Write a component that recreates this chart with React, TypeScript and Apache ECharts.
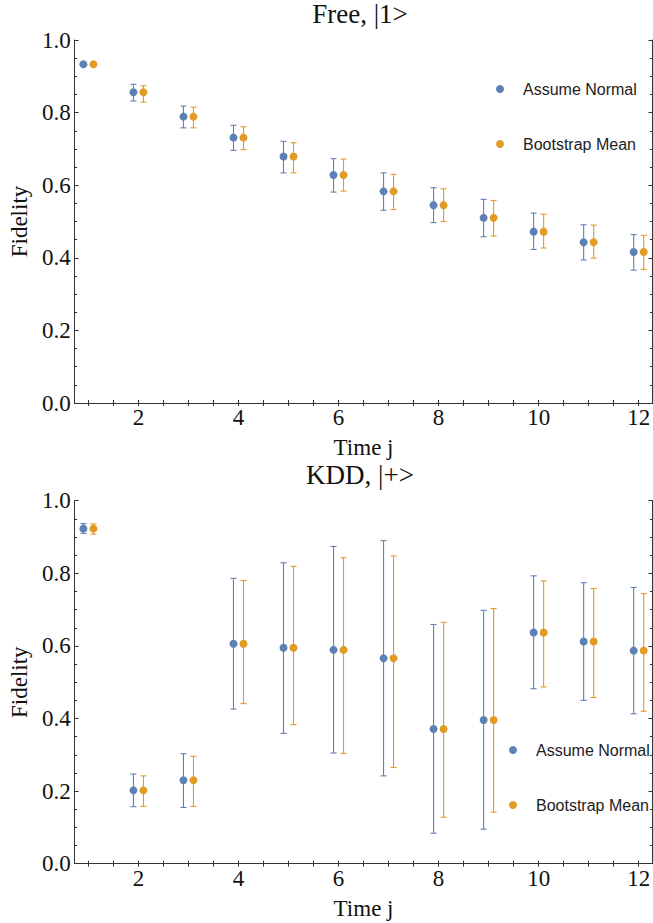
import React, { useEffect, useRef } from "react";
import * as echarts from "echarts";

// ---- data ----
const timeJ = [1, 2, 3, 4, 5, 6, 7, 8, 9, 10, 11, 12];

const freeNormalMean = [0.933, 0.856, 0.789, 0.731, 0.679, 0.628, 0.583, 0.545, 0.51, 0.472, 0.443, 0.416];
const freeNormalLow = [0.931, 0.832, 0.758, 0.696, 0.634, 0.581, 0.531, 0.497, 0.458, 0.423, 0.394, 0.366];
const freeNormalHigh = [0.935, 0.878, 0.818, 0.765, 0.721, 0.673, 0.634, 0.593, 0.561, 0.523, 0.491, 0.464];
const freeBootMean = [0.933, 0.856, 0.789, 0.731, 0.679, 0.628, 0.583, 0.545, 0.51, 0.472, 0.443, 0.416];
const freeBootLow = [0.931, 0.829, 0.758, 0.698, 0.634, 0.584, 0.533, 0.5, 0.46, 0.427, 0.399, 0.368];
const freeBootHigh = [0.935, 0.874, 0.815, 0.761, 0.717, 0.672, 0.63, 0.59, 0.558, 0.52, 0.49, 0.462];

const kddNormalMean = [0.923, 0.202, 0.23, 0.606, 0.595, 0.589, 0.566, 0.371, 0.396, 0.637, 0.612, 0.587];
const kddNormalLow = [0.91, 0.157, 0.155, 0.426, 0.359, 0.305, 0.242, 0.084, 0.095, 0.482, 0.45, 0.413];
const kddNormalHigh = [0.937, 0.247, 0.303, 0.786, 0.829, 0.874, 0.89, 0.659, 0.698, 0.793, 0.774, 0.761];
const kddBootMean = [0.923, 0.202, 0.23, 0.606, 0.595, 0.589, 0.566, 0.371, 0.396, 0.637, 0.612, 0.587];
const kddBootLow = [0.908, 0.158, 0.158, 0.441, 0.383, 0.304, 0.265, 0.128, 0.142, 0.487, 0.458, 0.42];
const kddBootHigh = [0.936, 0.242, 0.296, 0.78, 0.819, 0.843, 0.848, 0.665, 0.703, 0.779, 0.758, 0.744];

const xTickLabels = [2, 4, 6, 8, 10, 12];
const xTicks = [1, 1.5, 2, 2.5, 3, 3.5, 4, 4.5, 5, 5.5, 6, 6.5, 7, 7.5, 8, 8.5, 9, 9.5, 10, 10.5, 11, 11.5, 12];

const panelTitles = ["Free, |1>", "KDD, |+>"];
const seriesNames = ["Assume Normal", "Bootstrap Mean"];
const xName = "Time j";
const yName = "Fidelity";

const BLUE = "#5E81B5";
const ORANGE = "#E19C24";
const SERIF = "Liberation Serif";
const SANS = "Liberation Sans";

export default function App() {
  const ref = useRef<HTMLDivElement>(null);

  useEffect(() => {
    if (!ref.current) return;
    const chart = echarts.init(ref.current, null, { renderer: "svg" });

    const dodge = 0.1;
    const gridTops = [40, 500.7];
    const gridHeight = 363;
    const panels = [
      { normal: [freeNormalMean, freeNormalLow, freeNormalHigh], boot: [freeBootMean, freeBootLow, freeBootHigh] },
      { normal: [kddNormalMean, kddNormalLow, kddNormalHigh], boot: [kddBootMean, kddBootLow, kddBootHigh] },
    ];

    const xAxes: any[] = [];
    const yAxes: any[] = [];
    const grids: any[] = [];
    const series: any[] = [];

    const lineStyle = { color: "#333", width: 1 };
    const tickFont = { fontFamily: SERIF, fontSize: 23, color: "#111", fontWeight: "normal" };

    gridTops.forEach((top, gi) => {
      grids.push({ left: 67, top, width: 587, height: gridHeight });
      const baseX = {
        type: "value",
        gridIndex: gi,
        min: 0.725,
        max: 12.275,
        splitLine: { show: false },
        axisLine: { show: true, lineStyle },
        axisTick: { show: true, inside: true, length: 3, customValues: xTicks, lineStyle },
      };
      xAxes.push({
        ...baseX,
        position: "bottom",
        name: xName,
        nameLocation: "middle",
        nameGap: 33,
        nameTextStyle: { fontFamily: SERIF, fontSize: 23, color: "#111" },
        axisLabel: { show: true, customValues: xTickLabels, margin: 3, ...tickFont },
      });
      xAxes.push({ ...baseX, position: "top", axisLabel: { show: false } });
      const baseY = {
        type: "value",
        gridIndex: gi,
        min: 0,
        max: 1,
        interval: 0.2,
        splitLine: { show: false },
        minorSplitLine: { show: false },
        axisLine: { show: true, lineStyle },
        axisTick: { show: true, inside: true, length: 4, lineStyle },
        minorTick: { show: true, splitNumber: 4, length: 2.5, lineStyle },
      };
      yAxes.push({
        ...baseY,
        position: "left",
        name: yName,
        nameLocation: "middle",
        nameGap: 43,
        nameTextStyle: { fontFamily: SERIF, fontSize: 23, color: "#111" },
        axisLabel: {
          show: true,
          margin: 4,
          ...tickFont,
          formatter: (v: number) => v.toFixed(1),
        },
      });
      yAxes.push({ ...baseY, position: "right", axisLabel: { show: false } });

      const xi = gi * 2;
      const yi = gi * 2;
      const groups = [
        { name: seriesNames[0], color: BLUE, arr: panels[gi].normal, off: -dodge },
        { name: seriesNames[1], color: ORANGE, arr: panels[gi].boot, off: dodge },
      ];
      groups.forEach((g) => {
        const [mean, low, high] = g.arr;
        series.push({
          type: "scatter",
          name: g.name,
          xAxisIndex: xi,
          yAxisIndex: yi,
          symbol: "circle",
          symbolSize: 8,
          z: 3,
          itemStyle: { color: g.color, opacity: 1 },
          data: timeJ.map((j, i) => [j + g.off, mean[i]]),
        });
        series.push({
          type: "custom",
          name: g.name,
          xAxisIndex: xi,
          yAxisIndex: yi,
          silent: true,
          z: 2,
          itemStyle: { color: g.color },
          encode: { x: 0, y: [1, 2] },
          data: timeJ.map((j, i) => [j + g.off, low[i], high[i]]),
          renderItem: (params: any, api: any) => {
            const x = api.value(0);
            const lo = api.coord([x, api.value(1)]);
            const hi = api.coord([x, api.value(2)]);
            const cap = 3;
            const st = { stroke: g.color, lineWidth: 1.1 };
            return {
              type: "group",
              children: [
                { type: "line", shape: { x1: lo[0], y1: lo[1], x2: hi[0], y2: hi[1] }, style: st },
                { type: "line", shape: { x1: lo[0] - cap, y1: lo[1], x2: lo[0] + cap, y2: lo[1] }, style: st },
                { type: "line", shape: { x1: hi[0] - cap, y1: hi[1], x2: hi[0] + cap, y2: hi[1] }, style: st },
              ],
            };
          },
        });
      });
    });

    const legendBase = {
      orient: "vertical",
      data: seriesNames.map((n, i) => ({
        name: n,
        icon: "circle",
        itemStyle: { color: i === 0 ? BLUE : ORANGE },
      })),
      itemWidth: 8,
      itemHeight: 8,
      itemGap: 39,
      padding: 0,
      selectedMode: false,
      textStyle: { fontFamily: SANS, fontSize: 16, lineHeight: 16, color: "#222", padding: [0, 0, 0, 14] },
    };

    chart.setOption({
      animation: false,
      backgroundColor: "#fff",
      title: [
        {
          text: panelTitles[0],
          left: 360,
          top: 0,
          textAlign: "center",
          padding: 0,
          textStyle: { fontFamily: SERIF, fontSize: 27, fontWeight: "normal", color: "#111" },
        },
        {
          text: panelTitles[1],
          left: 360,
          top: 461,
          textAlign: "center",
          padding: 0,
          textStyle: { fontFamily: SERIF, fontSize: 27, fontWeight: "normal", color: "#111" },
        },
      ],
      legend: [
        { ...legendBase, left: 496, top: 81 },
        { ...legendBase, left: 509, top: 742 },
      ],
      grid: grids,
      xAxis: xAxes,
      yAxis: yAxes,
      series,
    });

    return () => chart.dispose();
  }, []);

  return (
    <div
      ref={ref}
      style={{ position: "absolute", left: 0, top: 0, width: 653, height: 923, background: "#fff" }}
    />
  );
}
